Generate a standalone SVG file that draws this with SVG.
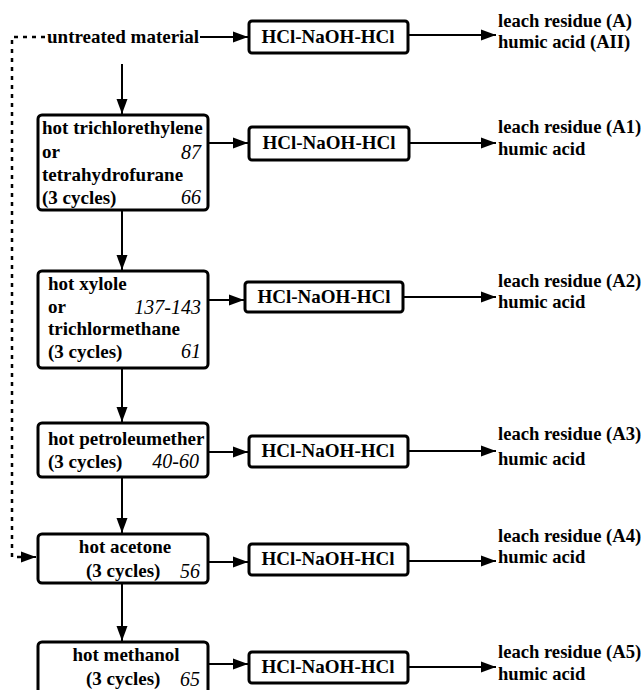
<svg xmlns="http://www.w3.org/2000/svg" width="643" height="690" viewBox="0 0 643 690">
<style>
text{font-family:"Liberation Serif","Times New Roman",serif;font-size:19px;fill:#000}
.b{font-weight:bold}
.r{font-size:18.6px}
.n{font-style:italic;font-size:20px;text-anchor:end}
.c{text-anchor:middle}
.box{fill:#fff;stroke:#000;stroke-width:3}
.ln{fill:none;stroke:#000;stroke-width:2}
.dot{fill:none;stroke:#000;stroke-width:2.5;stroke-dasharray:4 5}
</style>
<defs>
<marker id="ah" markerUnits="userSpaceOnUse" markerWidth="16" markerHeight="12" refX="15" refY="6" orient="auto">
<path d="M0,0.5 L15,6 L0,11.5 z" fill="#000"/>
</marker>
</defs>
<rect width="643" height="690" fill="#fff"/>
<g id="connectors">
<path class="dot" d="M45,37 H12 V557 H24" />
<path class="ln" d="M24,557 H36" marker-end="url(#ah)"/>
<path class="ln" d="M200,37 H248" marker-end="url(#ah)"/>
<path class="ln" d="M408,35 H496" marker-end="url(#ah)"/>
<path class="ln" d="M122,64 V114" marker-end="url(#ah)"/>
<path class="ln" d="M208,143 H248" marker-end="url(#ah)"/>
<path class="ln" d="M409,143 H496" marker-end="url(#ah)"/>
<path class="ln" d="M122,210 V270" marker-end="url(#ah)"/>
<path class="ln" d="M208,300 H244" marker-end="url(#ah)"/>
<path class="ln" d="M403,297 H496" marker-end="url(#ah)"/>
<path class="ln" d="M122,368 V422" marker-end="url(#ah)"/>
<path class="ln" d="M208,452 H248" marker-end="url(#ah)"/>
<path class="ln" d="M408,451 H496" marker-end="url(#ah)"/>
<path class="ln" d="M122,477 V533" marker-end="url(#ah)"/>
<path class="ln" d="M208,562 H248" marker-end="url(#ah)"/>
<path class="ln" d="M408,561 H496" marker-end="url(#ah)"/>
<path class="ln" d="M122,583 V641" marker-end="url(#ah)"/>
<path class="ln" d="M208,664 H248" marker-end="url(#ah)"/>
<path class="ln" d="M408,667 H496" marker-end="url(#ah)"/>
</g>
<g id="untreated">
<text class="b" x="47" y="43">untreated material</text>
</g>
<g id="box1">
<rect class="box" x="38" y="115" width="170" height="95" rx="4"/>
<text class="b" x="42" y="134">hot trichlorethylene</text>
<text class="b" x="42" y="158">or</text>
<text class="b" x="42" y="181">tetrahydrofurane</text>
<text class="b" x="42" y="204">(3 cycles)</text>
<text class="n" x="201" y="159">87</text>
<text class="n" x="201" y="204">66</text>
</g>
<g id="box2">
<rect class="box" x="38" y="271" width="170" height="97" rx="4"/>
<text class="b" x="48" y="290">hot xylole</text>
<text class="b" x="48" y="313">or</text>
<text class="b" x="48" y="335">trichlormethane</text>
<text class="b" x="48" y="358">(3 cycles)</text>
<text class="n" x="201" y="314">137-143</text>
<text class="n" x="201" y="358">61</text>
</g>
<g id="box3">
<rect class="box" x="38" y="423" width="170" height="54" rx="4"/>
<text class="b" x="48" y="445">hot petroleumether</text>
<text class="b" x="48" y="468">(3 cycles)</text>
<text class="n" x="199" y="468">40-60</text>
</g>
<g id="box4">
<rect class="box" x="38" y="534" width="170" height="49" rx="4"/>
<text class="b c" x="125" y="553">hot acetone</text>
<text class="b" x="86" y="577">(3 cycles)</text>
<text class="n" x="200" y="578">56</text>
</g>
<g id="box5">
<rect class="box" x="38" y="642" width="170" height="70" rx="4"/>
<text class="b c" x="126" y="661">hot methanol</text>
<text class="b" x="86" y="685">(3 cycles)</text>
<text class="n" x="200" y="686">65</text>
</g>
<g id="hcl1">
<rect class="box" x="249" y="21" width="159" height="32" rx="3"/>
<text class="b c" x="328" y="43">HCl-NaOH-HCl</text>
</g>
<g id="hcl2">
<rect class="box" x="249" y="127" width="160" height="33" rx="3"/>
<text class="b c" x="329" y="149">HCl-NaOH-HCl</text>
</g>
<g id="hcl3">
<rect class="box" x="245" y="282" width="158" height="30" rx="3"/>
<text class="b c" x="324" y="303">HCl-NaOH-HCl</text>
</g>
<g id="hcl4">
<rect class="box" x="249" y="436" width="159" height="31" rx="3"/>
<text class="b c" x="328" y="457">HCl-NaOH-HCl</text>
</g>
<g id="hcl5">
<rect class="box" x="249" y="544" width="159" height="31" rx="3"/>
<text class="b c" x="328" y="565">HCl-NaOH-HCl</text>
</g>
<g id="hcl6">
<rect class="box" x="249" y="652" width="159" height="31" rx="3"/>
<text class="b c" x="328" y="673">HCl-NaOH-HCl</text>
</g>
<g id="out0">
<text class="b r" x="498" y="27">leach residue (A)</text>
<text class="b r" x="498" y="48">humic acid (AII)</text>
</g>
<g id="out1">
<text class="b r" x="498" y="133">leach residue (A1)</text>
<text class="b r" x="498" y="155">humic acid</text>
</g>
<g id="out2">
<text class="b r" x="498" y="287">leach residue (A2)</text>
<text class="b r" x="498" y="308">humic acid</text>
</g>
<g id="out3">
<text class="b r" x="498" y="440">leach residue (A3)</text>
<text class="b r" x="498" y="465">humic acid</text>
</g>
<g id="out4">
<text class="b r" x="498" y="542">leach residue (A4)</text>
<text class="b r" x="498" y="563">humic acid</text>
</g>
<g id="out5">
<text class="b r" x="498" y="658">leach residue (A5)</text>
<text class="b r" x="498" y="680">humic acid</text>
</g>
</svg>
